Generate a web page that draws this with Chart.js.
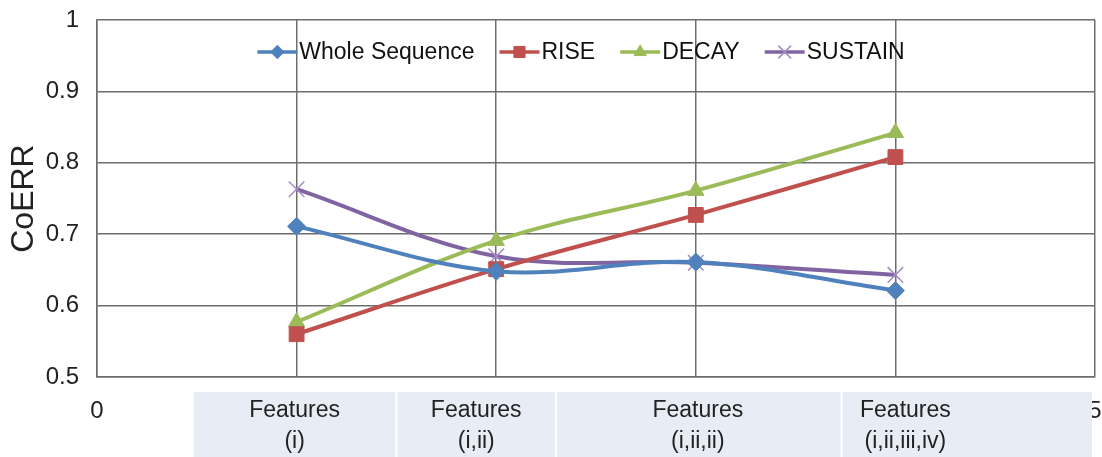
<!DOCTYPE html>
<html>
<head>
<meta charset="utf-8">
<script src="https://cdn.jsdelivr.net/npm/chart.js@4/dist/chart.umd.min.js"></script>
<style>
  html, body { margin: 0; padding: 0; background: #fff; }
  #wrap { width: 1102px; height: 457px; }
</style>
</head>
<body>
<div id="wrap"><canvas id="coerrChart" width="1102" height="457"></canvas></div>
<script>
// Feature sets (x positions 1..4) and the CoERR values
const xValues = [1, 2, 3, 4];
const xTickValues = [0, 1, 2, 3, 4, 5];
const featureTop = ['Features', 'Features', 'Features', 'Features'];
const featureBottom = ['(i)', '(i,ii)', '(i,ii,ii)', '(i,ii,iii,iv)'];
const wholeSequence = [0.711, 0.648, 0.661, 0.621];
const rise = [0.560, 0.651, 0.727, 0.808];
const decay = [0.577, 0.691, 0.761, 0.842];
const sustain = [0.763, 0.669, 0.660, 0.643];
const yTicks = [0.5, 0.6, 0.7, 0.8, 0.9, 1];

const FONT = '"Liberation Sans", Arial, sans-serif';
const GRID = '#6e6e6e';

function toPoints(values) {
    return values.map((v, i) => ({ x: xValues[i], y: v }));
}

const series = [
    { label: 'Whole Sequence', data: wholeSequence, color: '#4F81BD', style: 'rectRot', radius: 9 },
    { label: 'RISE', data: rise, color: '#C0504D', style: 'rect', radius: 10.5 },
    { label: 'DECAY', data: decay, color: '#9BBB59', style: 'triangle', radius: 9.5 },
    { label: 'SUSTAIN', data: sustain, color: '#A48CC4', style: 'crossRot', radius: 11 }
];
const lineColors = ['#4F81BD', '#C0504D', '#9BBB59', '#8064A2'];

// Legenda no estilo do Excel (linha + marcador) dentro da área do gráfico
const excelLegend = {
    id: 'excelLegend',
    afterDatasetsDraw(chart) {
        const ctx = chart.ctx;
        const y = 52;
        const lineLen = 40, textGap = 2, itemGap = 25;
        ctx.save();
        ctx.font = '23px ' + FONT;
        ctx.textBaseline = 'middle';
        const widths = series.map(s => lineLen + textGap + ctx.measureText(s.label).width);
        const total = widths.reduce((a, b) => a + b, 0) + itemGap * (series.length - 1);
        let x = 581 - total / 2;
        series.forEach((s, i) => {
            ctx.strokeStyle = lineColors[i];
            ctx.lineWidth = 3.5;
            ctx.beginPath();
            ctx.moveTo(x, y);
            ctx.lineTo(x + lineLen, y);
            ctx.stroke();
            ctx.fillStyle = s.color;
            ctx.strokeStyle = s.color;
            ctx.lineWidth = s.style === 'crossRot' ? 1.5 : 1;
            Chart.helpers.drawPoint(ctx, {
                pointStyle: s.style,
                radius: s.style === 'crossRot' ? 9 : s.radius * 0.75,
                rotation: 0,
                borderWidth: ctx.lineWidth
            }, x + lineLen / 2, y);
            ctx.fillStyle = '#111';
            ctx.fillText(s.label, x + lineLen + textGap, y + 1);
            x += widths[i] + itemGap;
        });
        ctx.restore();
    }
};

// Rótulos do eixo x e tabela de categorias desenhada por cima
const featureTable = {
    id: 'featureTable',
    afterDraw(chart) {
        const x = chart.scales.x;
        const ctx = chart.ctx;
        ctx.save();
        ctx.fillStyle = '#222';
        ctx.font = '24px ' + FONT;
        ctx.textAlign = 'center';
        ctx.textBaseline = 'middle';
        xTickValues.forEach(v => ctx.fillText(String(v), x.getPixelForValue(v), 411));

        const edges = [0.48, 1.5, 2.3, 3.73, 4.99];
        const centers = [0.99, 1.9, 3.01, 4.05];
        const top = 392;
        ctx.fillStyle = '#e8edf5';
        for (let i = 0; i < edges.length - 1; i++) {
            const l = x.getPixelForValue(edges[i]) + 1;
            const r = x.getPixelForValue(edges[i + 1]) - 1;
            ctx.fillRect(l, top, r - l, chart.height - top);
        }
        ctx.fillStyle = '#222';
        ctx.font = '23px ' + FONT;
        for (let i = 0; i < centers.length; i++) {
            const cx = x.getPixelForValue(centers[i]);
            ctx.fillText(featureTop[i], cx, 411);
            ctx.fillText(featureBottom[i], cx, 442);
        }
        ctx.restore();
    }
};

new Chart(document.getElementById('coerrChart'), {
    type: 'line',
    data: {
        datasets: series.map((s, i) => ({
            label: s.label,
            data: toPoints(s.data),
            borderColor: lineColors[i],
            backgroundColor: s.color,
            pointBorderColor: s.color,
            borderWidth: 4,
            pointStyle: s.style,
            pointRadius: s.radius,
            pointHoverRadius: s.radius,
            pointBorderWidth: s.style === 'crossRot' ? 1.5 : 1,
            tension: 0.35
        }))
    },
    options: {
        responsive: false,
        animation: false,
        layout: { autoPadding: false, padding: { top: 20, right: 7, left: 0, bottom: 0 } },
        plugins: {
            tooltip: { enabled: false },
            legend: { display: false }
        },
        scales: {
            x: {
                type: 'linear',
                min: 0,
                max: 5,
                afterFit(scale) { scale.height = 80; },
                grid: { color: GRID, lineWidth: 1.5, drawTicks: false },
                border: { color: GRID, width: 1.5 },
                ticks: { stepSize: 1, display: false }
            },
            y: {
                min: 0.5,
                max: 1,
                afterFit(scale) {
                    scale.width = 97;
                    scale.paddingTop = 0;
                    scale.paddingBottom = 0;
                },
                afterBuildTicks(scale) { scale.ticks = yTicks.map(v => ({ value: v })); },
                grid: { color: GRID, lineWidth: 1.5, drawTicks: false },
                border: { color: GRID, width: 1.5 },
                title: {
                    display: true,
                    text: 'CoERR',
                    color: '#222',
                    font: { family: FONT, size: 32, lineHeight: 1 },
                    padding: { top: 8, bottom: 0 }
                },
                ticks: {
                    padding: 18,
                    color: '#222',
                    font: { family: FONT, size: 24 },
                    callback: v => String(Math.round(v * 10) / 10)
                }
            }
        }
    },
    plugins: [excelLegend, featureTable]
});
</script>
</body>
</html>
